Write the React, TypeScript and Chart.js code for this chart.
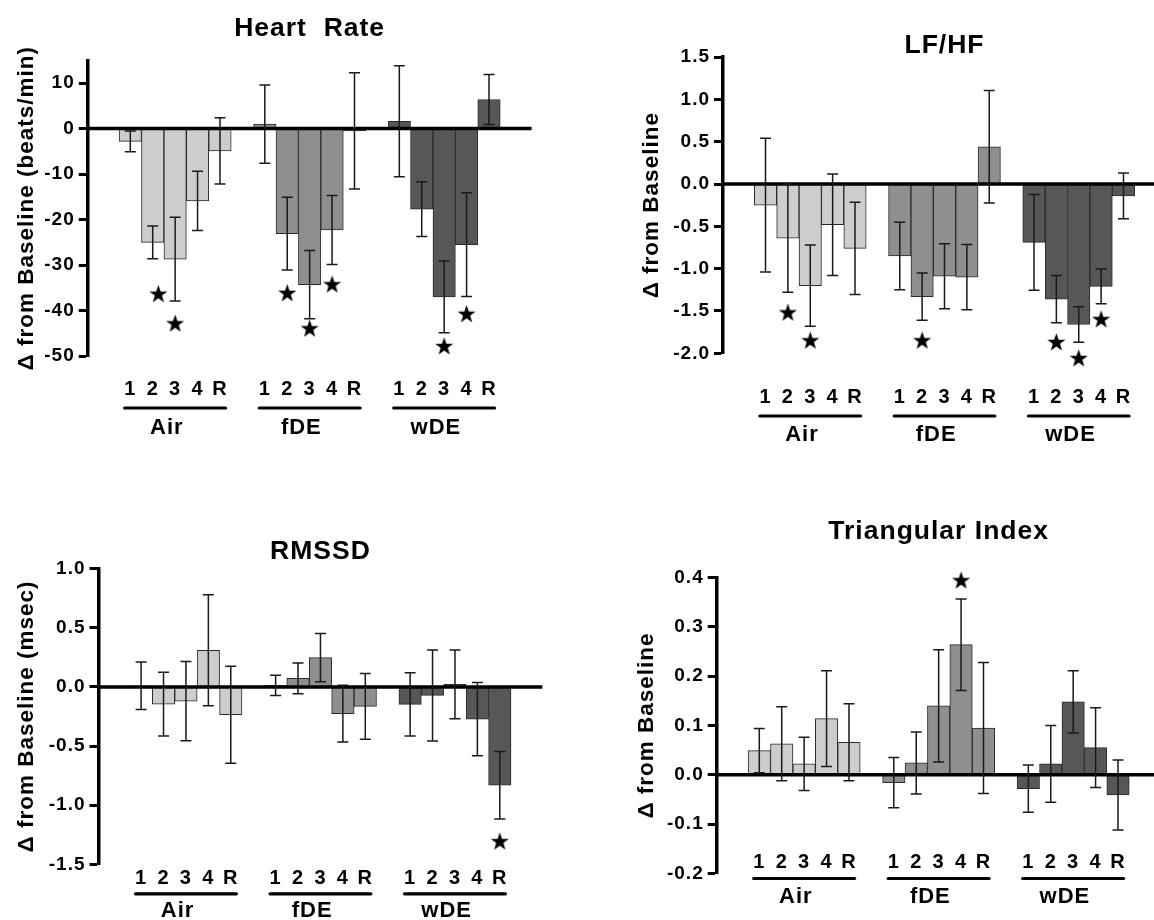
import React, { useEffect, useRef } from 'react';
import { Chart, registerables } from 'chart.js';

Chart.register(...registerables);

const FONT = '"Liberation Sans", Arial, Helvetica, sans-serif';
Chart.defaults.font.family = FONT;

// ---- shared labels ----
const pointLabels = ['1', '2', '3', '4', 'R'];
const groupNames = ['Air', 'fDE', 'wDE'];
const groupColors = ['#cdcdcd', '#8f8f8f', '#575757'];

// ---- Heart Rate ----
const hrAir = [-2.8, -25.0, -28.7, -15.9, -4.9];
const hrAirErr = [2.3, 3.6, 9.2, 6.5, 7.3];
const hrFde = [1.0, -23.1, -34.3, -22.3, -0.5];
const hrFdeErr = [8.6, 8.0, 7.5, 7.6, 12.8];
const hrWde = [1.6, -17.7, -37.0, -25.5, 6.4];
const hrWdeErr = [12.2, 6.0, 7.9, 11.4, 5.5];
const hrStarX = [1.25, 2, 7, 8, 9, 14, 15];
const hrStarY = [-36.2, -42.7, -36.0, -43.8, -34.1, -47.7, -40.6];
const hrTicks = [10, 0, -10, -20, -30, -40, -50];

// ---- LF/HF ----
const lfAir = [-0.25, -0.64, -1.2, -0.48, -0.76];
const lfAirErr = [0.79, 0.64, 0.48, 0.6, 0.545];
const lfFde = [-0.85, -1.33, -1.09, -1.1, 0.44];
const lfFdeErr = [0.4, 0.28, 0.385, 0.385, 0.665];
const lfWde = [-0.69, -1.36, -1.66, -1.21, -0.14];
const lfWdeErr = [0.565, 0.28, 0.21, 0.205, 0.27];
const lfStarX = [1, 2, 7, 13, 14, 15];
const lfStarY = [-1.51, -1.84, -1.84, -1.86, -2.05, -1.59];
const lfTicks = [1.5, 1.0, 0.5, 0.0, -0.5, -1.0, -1.5, -2.0];

// ---- RMSSD ----
const rmAir = [0.01, -0.145, -0.12, 0.31, -0.235];
const rmAirErr = [0.2, 0.27, 0.335, 0.47, 0.41];
const rmFde = [0.013, 0.072, 0.248, -0.226, -0.164];
const rmFdeErr = [0.086, 0.13, 0.205, 0.24, 0.278];
const rmWde = [-0.147, -0.072, 0.022, -0.273, -0.831];
const rmWdeErr = [0.268, 0.385, 0.29, 0.31, 0.285];
const rmStarX = [16];
const rmStarY = [-1.3];
const rmTicks = [1.0, 0.5, 0.0, -0.5, -1.0, -1.5];

// ---- Triangular Index ----
const tiAir = [0.049, 0.063, 0.022, 0.114, 0.066];
const tiAirErr = [0.045, 0.075, 0.054, 0.097, 0.078];
const tiFde = [-0.016, 0.024, 0.14, 0.264, 0.095];
const tiFdeErr = [0.051, 0.063, 0.114, 0.093, 0.133];
const tiWde = [-0.028, 0.022, 0.148, 0.055, -0.041];
const tiWdeErr = [0.048, 0.078, 0.063, 0.081, 0.071];
const tiStarX = [9];
const tiStarY = [0.396];
const tiTicks = [0.4, 0.3, 0.2, 0.1, 0.0, -0.1, -0.2];

type PanelDef = {
  title: string;
  yTitle: string;
  left: number;
  top: number;
  width: number;
  height: number;
  yWidth: number;
  padding: { top: number; right: number; bottom: number; left: number };
  titlePad: { top: number; bottom: number };
  yTitlePad: number;
  yMin: number;
  yMax: number;
  yTicks: number[];
  decimals: number;
  series: number[][];
  errors: number[][];
  starX: number[];
  starY: number[];
  offsets: { label: number; line: number; name: number };
};

const panels: PanelDef[] = [
  {
    title: 'Heart  Rate',
    yTitle: '\u0394 from Baseline (beats/min)',
    left: 0, top: 0, width: 577, height: 460,
    yWidth: 87.7,
    padding: { top: 17.6, right: 45.4, bottom: 104, left: 0 },
    titlePad: { top: 0, bottom: 21.6 },
    yTitlePad: 12.9,
    yMin: -50, yMax: 15, yTicks: hrTicks, decimals: 0,
    series: [hrAir, hrFde, hrWde],
    errors: [hrAirErr, hrFdeErr, hrWdeErr],
    starX: hrStarX, starY: hrStarY,
    offsets: { label: 33.5, line: 52, name: 72 },
  },
  {
    title: 'LF/HF',
    yTitle: '\u0394 from Baseline',
    left: 577, top: 0, width: 600, height: 460,
    yWidth: 146,
    padding: { top: 35.4, right: 10.1, bottom: 106.7, left: 0 },
    titlePad: { top: 0, bottom: 0.5 },
    yTitlePad: 61.2,
    yMin: -2, yMax: 1.5, yTicks: lfTicks, decimals: 1,
    series: [lfAir, lfFde, lfWde],
    errors: [lfAirErr, lfFdeErr, lfWdeErr],
    starX: lfStarX, starY: lfStarY,
    offsets: { label: 44.5, line: 62.7, name: 81.2 },
  },
  {
    title: 'RMSSD',
    yTitle: '\u0394 from Baseline (msec)',
    left: 0, top: 460, width: 577, height: 460,
    yWidth: 98.5,
    padding: { top: 81.3, right: 34.6, bottom: 55.7, left: 0 },
    titlePad: { top: 0, bottom: 6.2 },
    yTitlePad: 12.9,
    yMin: -1.5, yMax: 1.0, yTicks: rmTicks, decimals: 1,
    series: [rmAir, rmFde, rmWde],
    errors: [rmAirErr, rmFdeErr, rmWdeErr],
    starX: rmStarX, starY: rmStarY,
    offsets: { label: 14.5, line: 29.5, name: 46.5 },
  },
  {
    title: 'Triangular Index',
    yTitle: '\u0394 from Baseline',
    left: 577, top: 460, width: 600, height: 460,
    yWidth: 139.7,
    padding: { top: 61.3, right: 16.4, bottom: 46.7, left: 0 },
    titlePad: { top: 0, bottom: 35.2 },
    yTitlePad: 56.2,
    yMin: -0.2, yMax: 0.4, yTicks: tiTicks, decimals: 1,
    series: [tiAir, tiFde, tiWde],
    errors: [tiAirErr, tiFdeErr, tiWdeErr],
    starX: tiStarX, starY: tiStarY,
    offsets: { label: -10.5, line: 5.2, name: 23.5 },
  },
];

function makeStar(size: number): HTMLCanvasElement {
  const c = document.createElement('canvas');
  c.width = size;
  c.height = size;
  const g = c.getContext('2d')!;
  const R = size / 2;
  const r = R * 0.4;
  g.beginPath();
  for (let k = 0; k < 10; k++) {
    const a = -Math.PI / 2 + (k * Math.PI) / 5;
    const rad = k % 2 === 0 ? R : r;
    const px = R + rad * Math.cos(a);
    const py = R + 1.2 + rad * Math.sin(a);
    if (k === 0) g.moveTo(px, py);
    else g.lineTo(px, py);
  }
  g.closePath();
  g.fillStyle = '#000';
  g.fill();
  return c;
}

const LETTER_SPACING = '1px';

const spacingPlugin = {
  id: 'letterSpacing',
  beforeUpdate(chart: any) {
    try { chart.ctx.letterSpacing = LETTER_SPACING; } catch (e) { /* ignore */ }
  },
  beforeDraw(chart: any) {
    try { chart.ctx.letterSpacing = LETTER_SPACING; } catch (e) { /* ignore */ }
  },
};

const zeroLinePlugin = {
  id: 'zeroLine',
  afterDatasetsDraw(chart: any) {
    const { ctx, chartArea, scales } = chart;
    const y0 = scales.y.getPixelForValue(0);
    ctx.save();
    ctx.strokeStyle = '#000';
    ctx.lineWidth = 3.5;
    ctx.beginPath();
    ctx.moveTo(chartArea.left, y0);
    ctx.lineTo(chartArea.right, y0);
    ctx.stroke();
    ctx.restore();
  },
};

const errorBarPlugin = {
  id: 'errorBars',
  afterDatasetsDraw(chart: any) {
    const { ctx, scales } = chart;
    const ds = chart.data.datasets[0];
    const meta = chart.getDatasetMeta(0);
    const cap = 5.5;
    ctx.save();
    ctx.strokeStyle = '#1a1a1a';
    ctx.lineWidth = 1.5;
    meta.data.forEach((el: any, i: number) => {
      const v = ds.data[i].y;
      const e = ds.errors[i];
      const yt = scales.y.getPixelForValue(v + e);
      const yb = scales.y.getPixelForValue(v - e);
      const x = el.x;
      ctx.beginPath();
      ctx.moveTo(x, yt);
      ctx.lineTo(x, yb);
      ctx.moveTo(x - cap, yt);
      ctx.lineTo(x + cap, yt);
      ctx.moveTo(x - cap, yb);
      ctx.lineTo(x + cap, yb);
      ctx.stroke();
    });
    ctx.restore();
  },
};

const groupLabelPlugin = {
  id: 'groupLabels',
  afterDraw(chart: any, _args: any, opts: any) {
    const { ctx, chartArea, scales } = chart;
    const x = scales.x;
    const base = chartArea.bottom;
    ctx.save();
    ctx.fillStyle = '#000';
    ctx.strokeStyle = '#000';
    ctx.textAlign = 'center';
    ctx.textBaseline = 'middle';
    groupNames.forEach((name, g) => {
      ctx.font = `bold 20px ${FONT}`;
      pointLabels.forEach((lab, i) => {
        ctx.fillText(lab, x.getPixelForValue(g * 6 + i), base + opts.label);
      });
      ctx.lineWidth = 3.2;
      ctx.lineCap = 'round';
      ctx.beginPath();
      ctx.moveTo(x.getPixelForValue(g * 6 - 0.25), base + opts.line);
      ctx.lineTo(x.getPixelForValue(g * 6 + 4.25), base + opts.line);
      ctx.stroke();
      ctx.font = `bold 22px ${FONT}`;
      ctx.fillText(name, x.getPixelForValue(g * 6 + 2 - 0.37), base + opts.name);
    });
    ctx.restore();
  },
};

function PanelChart({ p }: { p: PanelDef }) {
  const ref = useRef<HTMLCanvasElement | null>(null);
  useEffect(() => {
    if (!ref.current) return;
    const star = makeStar(19);
    const bars: { x: number; y: number }[] = [];
    const errs: number[] = [];
    const colors: string[] = [];
    p.series.forEach((arr, g) => {
      arr.forEach((v, i) => {
        bars.push({ x: g * 6 + i, y: v });
        errs.push(p.errors[g][i]);
        colors.push(groupColors[g]);
      });
    });
    const stars = p.starX.map((sx, i) => ({ x: sx, y: p.starY[i] }));

    const chart = new Chart(ref.current, {
      type: 'bar',
      data: {
        datasets: [
          {
            type: 'bar',
            label: 'values',
            data: bars as any,
            backgroundColor: colors,
            borderColor: '#2a2a2a',
            borderWidth: 1,
            borderSkipped: 'start',
            barPercentage: 1,
            categoryPercentage: 1,
            errors: errs,
          } as any,
          {
            type: 'scatter',
            label: 'significant',
            data: stars as any,
            pointStyle: star as any,
            pointRadius: 10,
            clip: false,
          } as any,
        ],
      },
      options: {
        responsive: false,
        animation: false,
        events: [],
        layout: { padding: p.padding },
        plugins: {
          legend: { display: false },
          tooltip: { enabled: false },
          title: {
            display: true,
            text: p.title,
            fullSize: false,
            color: '#000',
            font: { size: 26.5, weight: 'bold', lineHeight: 0.8, family: FONT },
            padding: p.titlePad,
          },
          groupLabels: p.offsets,
        } as any,
        scales: {
          x: { type: 'linear', min: -1, max: 17, display: false },
          y: {
            type: 'linear',
            min: p.yMin,
            max: p.yMax,
            afterBuildTicks: (s: any) => {
              s.ticks = p.yTicks.map((v) => ({ value: v }));
            },
            afterFit: (s: any) => {
              s.width = p.yWidth;
            },
            ticks: {
              color: '#000',
              padding: 4,
              font: { size: 19, weight: 'bold', family: FONT },
              callback: (v: any) => Number(v).toFixed(p.decimals),
            },
            grid: {
              display: true,
              drawOnChartArea: false,
              drawTicks: true,
              tickLength: 9,
              tickWidth: 3,
              tickColor: '#000',
            },
            border: { display: true, color: '#000', width: 3.5 },
            title: {
              display: true,
              text: p.yTitle,
              color: '#000',
              font: { size: 22.5, weight: 'bold', family: FONT },
              padding: { top: p.yTitlePad, bottom: 0 },
            },
          },
        } as any,
      },
      plugins: [spacingPlugin, zeroLinePlugin, errorBarPlugin, groupLabelPlugin],
    });
    return () => chart.destroy();
  }, [p]);

  return (
    <div style={{ position: 'absolute', left: p.left, top: p.top, width: p.width, height: p.height }}>
      <canvas ref={ref} width={p.width} height={p.height} style={{ display: 'block' }} />
    </div>
  );
}

export default function App() {
  return (
    <div
      style={{
        position: 'absolute',
        left: 0,
        top: 0,
        width: 1154,
        height: 920,
        overflow: 'hidden',
        background: '#fff',
      }}
    >
      {panels.map((p) => (
        <PanelChart key={p.title} p={p} />
      ))}
    </div>
  );
}
